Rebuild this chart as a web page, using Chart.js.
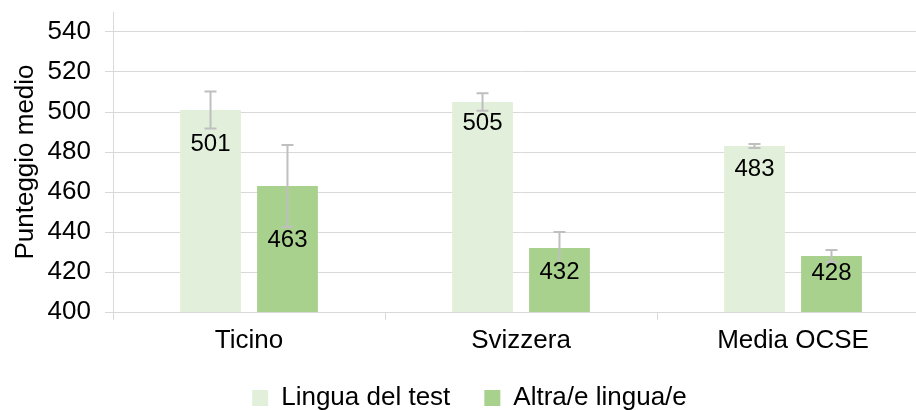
<!DOCTYPE html>
<html>
<head>
<meta charset="utf-8">
<script src="https://cdn.jsdelivr.net/npm/chart.js@4"></script>
<style>
  html, body { margin: 0; padding: 0; background: #fff; overflow: hidden; }
  #wrap { width: 940px; height: 431px; }
</style>
</head>
<body>
<div id="wrap"><canvas id="chart" width="940" height="431"></canvas></div>
<script>
const categories = ['Ticino', 'Svizzera', 'Media OCSE'];
const seriesNames = ['Lingua del test', 'Altra/e lingua/e'];
const testLanguage = [501, 505, 483];
const otherLanguage = [463, 432, 428];
const testLanguageErr = [9.2, 4.4, 1];
const otherLanguageErr = [20.5, 8, 3];
const yTicks = [400, 420, 440, 460, 480, 500, 520, 540];

const FONT = "'Liberation Sans', Arial, sans-serif";
const lineColor = '#d9d9d9';

// error bars + value labels drawn on top of the bars
const errorBarsAndLabels = {
  id: 'errorBarsAndLabels',
  afterLayout(chart) {
    // nudge the legend row closer to the axis labels
    if (chart.legend) {
      chart.legend.top -= 10;
      chart.legend.bottom -= 10;
      chart.legend.left += 5;
      chart.legend.right += 5;
    }
  },
  afterDatasetsDraw(chart) {
    const { ctx } = chart;
    const yScale = chart.scales.y;
    chart.data.datasets.forEach((ds, di) => {
      const meta = chart.getDatasetMeta(di);
      meta.data.forEach((bar, i) => {
        const v = ds.data[i];
        const e = ds.errors[i];
        const yTop = yScale.getPixelForValue(v + e);
        const yBot = yScale.getPixelForValue(v - e);
        ctx.save();
        ctx.strokeStyle = '#bfbfbf';
        ctx.lineWidth = 2;
        ctx.beginPath();
        ctx.moveTo(bar.x, yTop); ctx.lineTo(bar.x, yBot);
        ctx.moveTo(bar.x - 6, yTop); ctx.lineTo(bar.x + 6, yTop);
        ctx.moveTo(bar.x - 6, yBot); ctx.lineTo(bar.x + 6, yBot);
        ctx.stroke();

        const ly = bar.y + ds.labelShift[i];
        ctx.fillStyle = ds.backgroundColor;
        ctx.fillRect(bar.x - 22, ly - 10, 44, 20);
        ctx.font = '24px ' + FONT;
        ctx.fillStyle = '#000';
        ctx.textAlign = 'center';
        ctx.textBaseline = 'middle';
        ctx.fillText(String(v), bar.x, ly);
        ctx.restore();
      });
    });
  }
};

new Chart(document.getElementById('chart'), {
  type: 'bar',
  data: {
    labels: categories,
    datasets: [
      {
        label: seriesNames[0],
        data: testLanguage,
        errors: testLanguageErr,
        labelShift: [34, 21, 23],
        backgroundColor: '#e2efda',
        categoryPercentage: 0.566,
        barPercentage: 0.79
      },
      {
        label: seriesNames[1],
        data: otherLanguage,
        errors: otherLanguageErr,
        labelShift: [54, 24, 17],
        backgroundColor: '#a9d18e',
        categoryPercentage: 0.566,
        barPercentage: 0.79
      }
    ]
  },
  options: {
    responsive: false,
    animation: false,
    layout: { padding: { top: 12, right: 11, left: 0, bottom: 0 } },
    plugins: {
      legend: {
        position: 'bottom',
        labels: {
          font: { family: FONT, size: 26 },
          color: '#000',
          boxWidth: 16,
          boxHeight: 16,
          padding: 34
        }
      },
      tooltip: { enabled: false }
    },
    scales: {
      x: {
        afterFit(axis) { axis.height = 49; },
        grid: { offset: true, drawOnChartArea: false, drawTicks: true, tickLength: 8, color: lineColor },
        border: { color: lineColor },
        ticks: { font: { family: FONT, size: 26 }, color: '#000', padding: 5 }
      },
      y: {
        min: 400,
        max: 550,
        afterBuildTicks(axis) {
          axis.ticks = yTicks.map(v => ({ value: v }));
        },
        afterFit(axis) {
          axis.width = 113;
          axis.paddingTop = 0;
          axis.paddingBottom = 0;
        },
        grid: { color: lineColor, tickLength: 8 },
        border: { color: lineColor },
        ticks: { font: { family: FONT, size: 26 }, color: '#000', padding: 14 },
        title: {
          display: true,
          text: 'Punteggio medio',
          font: { family: FONT, size: 26 },
          color: '#000',
          padding: { top: 10, bottom: 0 }
        }
      }
    }
  },
  plugins: [errorBarsAndLabels]
});
</script>
</body>
</html>
